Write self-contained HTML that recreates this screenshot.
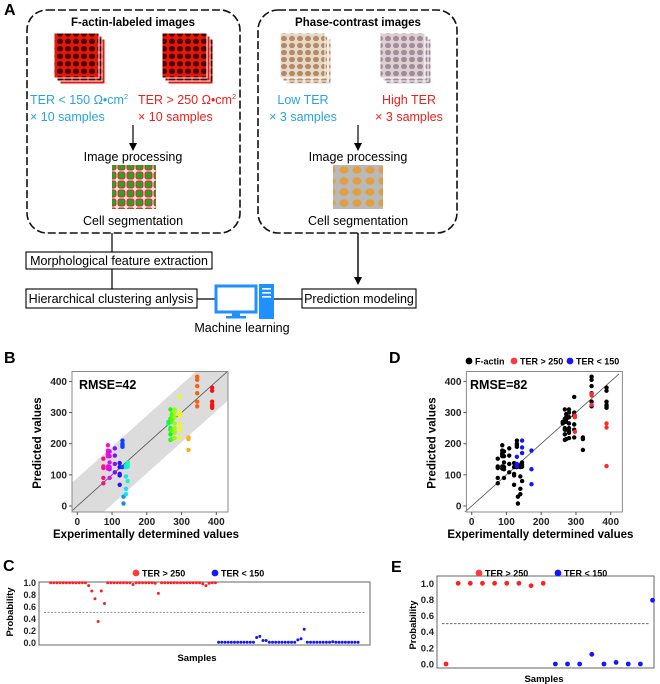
<!DOCTYPE html>
<html><head><meta charset="utf-8"><style>
html,body{margin:0;padding:0;background:#fff;}
svg{display:block;font-family:"Liberation Sans",Arial,sans-serif;}
.b{font-weight:bold;}
</style></head><body>
<svg id="fig" width="660" height="684" viewBox="0 0 660 684">
<defs>
<pattern id="redcells" width="8" height="7.5" patternUnits="userSpaceOnUse">
<rect width="8" height="7.5" fill="#e8150c"/><ellipse cx="4" cy="3.75" rx="3.1" ry="2.8" fill="#4a0500"/>
</pattern>
<pattern id="browncells" width="8" height="7" patternUnits="userSpaceOnUse">
<rect width="8" height="7" fill="#e9d9c4"/><ellipse cx="4" cy="3.5" rx="3" ry="2.6" fill="#b08a6a"/>
</pattern>
<pattern id="purplecells" width="8" height="7" patternUnits="userSpaceOnUse">
<rect width="8" height="7" fill="#ddd0cf"/><ellipse cx="4" cy="3.5" rx="3" ry="2.6" fill="#a08a9c"/>
</pattern>
<pattern id="greencells" width="9" height="9" patternUnits="userSpaceOnUse">
<rect width="9" height="9" fill="#e9e6e6"/><rect x="1" y="1" width="7" height="7" rx="2" fill="#2aa02a" stroke="#ee2222" stroke-width="1"/>
</pattern>
<pattern id="orangecells" width="13" height="11" patternUnits="userSpaceOnUse">
<rect width="13" height="11" fill="#b9b9b9"/><ellipse cx="6" cy="5" rx="4.6" ry="3.8" fill="#e0a041"/>
</pattern>
<marker id="arr" markerWidth="8" markerHeight="8" refX="4" refY="4" orient="auto" markerUnits="userSpaceOnUse">
<path d="M0,0 L8,4 L0,8 z" fill="#000"/>
</marker>
<clipPath id="clipB"><rect x="72" y="372" width="156" height="140"/></clipPath>
<clipPath id="clipD"><rect x="463" y="371" width="156" height="141"/></clipPath>
</defs>

<!-- Panel A -->
<g>
<text x="4" y="15" font-size="16" class="b">A</text>
<rect x="27" y="10" width="213" height="223" rx="20" fill="none" stroke="#111" stroke-width="1.6" stroke-dasharray="8,3"/>
<rect x="258" y="10" width="199" height="223" rx="20" fill="none" stroke="#111" stroke-width="1.6" stroke-dasharray="8,3"/>
<text x="133" y="26" font-size="11.5" class="b" text-anchor="middle">F-actin-labeled images</text>
<text x="358" y="26" font-size="11.5" class="b" text-anchor="middle">Phase-contrast images</text>

<g>
<rect x="60" y="39" width="45" height="45" fill="url(#redcells)" stroke="#fff" stroke-width="1"/>
<rect x="57" y="36" width="45" height="45" fill="url(#redcells)" stroke="#fff" stroke-width="1"/>
<rect x="54" y="33" width="45" height="45" fill="url(#redcells)" stroke="#fff" stroke-width="1"/>
</g>
<g>
<rect x="168" y="39" width="45" height="45" fill="url(#redcells)" stroke="#fff" stroke-width="1"/>
<rect x="165" y="36" width="45" height="45" fill="url(#redcells)" stroke="#fff" stroke-width="1"/>
<rect x="162" y="33" width="45" height="45" fill="url(#redcells)" stroke="#fff" stroke-width="1"/>
</g>
<g>
<rect x="286" y="39" width="45" height="45" fill="url(#browncells)" stroke="#fff" stroke-width="1"/>
<rect x="283" y="36" width="45" height="45" fill="url(#browncells)" stroke="#fff" stroke-width="1"/>
<rect x="280" y="33" width="45" height="45" fill="url(#browncells)" stroke="#fff" stroke-width="1"/>
</g>
<g>
<rect x="386" y="39" width="45" height="45" fill="url(#purplecells)" stroke="#fff" stroke-width="1"/>
<rect x="383" y="36" width="45" height="45" fill="url(#purplecells)" stroke="#fff" stroke-width="1"/>
<rect x="380" y="33" width="45" height="45" fill="url(#purplecells)" stroke="#fff" stroke-width="1"/>
</g>

<g font-size="12.5">
<text x="30" y="104" fill="#29a3e0">TER &lt; 150 Ω•cm<tspan font-size="7.5" dy="-5">2</tspan></text>
<text x="30" y="121" fill="#29a3e0">× 10 samples</text>
<text x="138" y="104" fill="#f0201a">TER &gt; 250 Ω•cm<tspan font-size="7.5" dy="-5">2</tspan></text>
<text x="138" y="121" fill="#f0201a">× 10 samples</text>
<text x="303" y="104" fill="#29a3e0" text-anchor="middle">Low TER</text>
<text x="303" y="121" fill="#29a3e0" text-anchor="middle">× 3 samples</text>
<text x="409" y="104" fill="#f0201a" text-anchor="middle">High TER</text>
<text x="409" y="121" fill="#f0201a" text-anchor="middle">× 3 samples</text>
</g>

<line x1="133" y1="125" x2="133" y2="147" stroke="#000" stroke-width="1.2" marker-end="url(#arr)"/>
<line x1="358" y1="125" x2="358" y2="147" stroke="#000" stroke-width="1.2" marker-end="url(#arr)"/>
<g font-size="12.5">
<text x="133" y="161" text-anchor="middle">Image processing</text>
<text x="358" y="161" text-anchor="middle">Image processing</text>
<text x="133" y="225" text-anchor="middle">Cell segmentation</text>
<text x="358" y="225" text-anchor="middle">Cell segmentation</text>
</g>
<rect x="112" y="165" width="44" height="44" fill="url(#greencells)"/>
<rect x="333" y="165" width="50" height="44" fill="url(#orangecells)"/>

<line x1="112" y1="233" x2="112" y2="290" stroke="#000" stroke-width="1.2"/>
<line x1="358" y1="233" x2="358" y2="281" stroke="#000" stroke-width="1.4" marker-end="url(#arr)"/>
<rect x="26" y="252" width="186" height="17" fill="#fff" stroke="#000" stroke-width="1.1"/>
<text x="119" y="265" font-size="12.5" text-anchor="middle">Morphological feature extraction</text>
<rect x="26" y="289" width="171" height="19" fill="#fff" stroke="#000" stroke-width="1.1"/>
<text x="111" y="303" font-size="12.5" text-anchor="middle">Hierarchical clustering anlysis</text>
<rect x="302" y="289" width="114" height="19" fill="#fff" stroke="#000" stroke-width="1.1"/>
<text x="359" y="303" font-size="12.5" text-anchor="middle">Prediction modeling</text>
<line x1="197" y1="299" x2="215" y2="299" stroke="#000" stroke-width="1.2"/>
<line x1="274" y1="299" x2="302" y2="299" stroke="#000" stroke-width="1.2"/>
<g>
<rect x="216" y="286" width="40" height="26" fill="#fff" stroke="#1e90ff" stroke-width="3"/>
<rect x="232" y="312" width="8" height="4" fill="#1e90ff"/>
<rect x="226" y="316" width="20" height="2.5" fill="#1e90ff"/>
<rect x="259" y="284" width="15" height="35" fill="#1e90ff"/>
<rect x="262" y="288" width="9" height="1.6" fill="#fff"/>
<rect x="262" y="292" width="9" height="1.6" fill="#fff"/>
<rect x="262" y="296" width="9" height="1.6" fill="#fff"/>
</g>
<text x="242" y="332" font-size="12.5" text-anchor="middle">Machine learning</text>
</g>

<g id="panelB">
<text x="4" y="363" font-size="16" class="b">B</text>
</g>
<g id="panelD">
<text x="389" y="363" font-size="16" class="b">D</text>
</g>
<g id="panelC">
<text x="3" y="571" font-size="16" class="b">C</text>
</g>
<g id="panelE">
<text x="391" y="572" font-size="16" class="b">E</text>
</g>
</svg>
<script>
// ---- Panel B / D data ----
const bX = [75, 88, 93, 108, 122, 130, 133, 140, 145, 262, 268, 272, 280, 295, 320, 345, 388];
const bY = [
  [152,127,122,90,73],
  [195,178,170,165,160,127,120],
  [175,160,140,125,118,90],
  [185,162,135,108],
  [138,125,103,98,68],
  [210,200,195,190,125],
  [30,8],
  [125,130,95,55,38],
  [140,132,126,80],
  [270,265],
  [310,280,270,250,245,230,212],
  [295,285,280,270,245,215],
  [310,300,285,265,250,240,235,218],
  [350,300,290,262,245,220],
  [220,215,180],
  [415,405,385,362,335,320],
  [380,370,335,325,320,315]
];
const dRedX = [297,297,297,345,345,345,388,388,388];
const dRedY = [290,285,238,360,355,325,265,252,128];
const dBlueX = [130,130,130,145,145,145,172,172,172];
const dBlueY = [158,135,128,210,188,170,178,118,70];
const axisTicks = [0,100,200,300,400];
// ---- Panel C data ----
const cRed = [1,1,1,1,1,1,1,1,1,1,1,1,0.95,0.86,0.73,0.35,0.86,0.65,1,1,1,1,1,1,1,1,0.97,1,1,1,1,1,1,0.99,0.82,1,1,1,1,1,1,1,1,1,1,1,1,1,0.98,0.95,0.99,1,1];
const cBlue = [0,0,0,0,0,0,0,0,0,0,0,0,0.08,0.1,0.03,0.03,0,0,0,0,0,0,0,0,0,0.04,0.06,0.22,0,0,0,0,0,0,0,0,0.01,0,0,0,0,0,0,0,0];
const probTicks = [0,0.2,0.4,0.6,0.8,1.0];
// ---- Panel E data ----
const eRed = [0,1,1,1,1,1,1,0.97,1];
const eBlue = [0,0,0,0.12,0,0.02,0,0,0.79];

const NS = 'http://www.w3.org/2000/svg';
function mk(parent, tag, attrs, text){
  const el = document.createElementNS(NS, tag);
  for (const k in attrs) el.setAttribute(k, attrs[k]);
  if (text !== undefined) el.textContent = text;
  parent.appendChild(el);
  return el;
}

function scatterPanel(g, ox, clipId, showBand){
  const sx = v => ox + v * 0.3475;
  const sy = v => 506 - v * 0.3115;
  const x0 = ox - 5.3, x1 = ox + 150.7, y0 = 371.5, y1 = 512;
  const clipG = mk(g, 'g', {'clip-path':'url(#'+clipId+')'});
  if (showBand){
    const pts = [[-100,-10],[-100,-195],[500,405],[500,590]].map(p=>sx(p[0])+','+sy(p[1])).join(' ');
    const band = mk(clipG, 'polygon', {points: pts, fill:'#dcdcdc'});
    
    
  }
  const diag = mk(clipG, 'line', {x1:sx(-30), y1:sy(-30), x2:sx(460), y2:sy(460), stroke:'#555', 'stroke-width':0.8});
  
  
  const box = mk(g, 'rect', {x:x0, y:y0, width:x1-x0, height:y1-y0, fill:'none', stroke:'#8a8a8a', 'stroke-width':1});
  
  
  axisTicks.forEach(t=>{
    mk(g,'line',{x1:sx(t),y1:y1,x2:sx(t),y2:y1+3,stroke:'#555'});
    const xl = mk(g,'text',{x:sx(t),y:y1+13,'font-size':10,'text-anchor':'middle','font-weight':'bold',fill:'#222'}, String(t));
    
    
    mk(g,'line',{x1:x0-3,y1:sy(t),x2:x0,y2:sy(t),stroke:'#555'});
    const yl = mk(g,'text',{x:x0-5,y:sy(t)+3.5,'font-size':10,'text-anchor':'end','font-weight':'bold',fill:'#222'}, String(t));
    
    
  });
  const xt = mk(g,'text',{x:(x0+x1)/2-4,y:538,'font-size':11.5,'text-anchor':'middle','font-weight':'bold'},'Experimentally determined values');
  
  
  const cy = 443, cx = x0-31;
  const yt = mk(g,'text',{x:cx,y:cy,'font-size':11.5,'text-anchor':'middle','font-weight':'bold',transform:'rotate(-90 '+cx+' '+cy+')'},'Predicted values');
  
  
  return {sx, sy};
}

(function(){
  const g = document.getElementById('panelB');
  const {sx, sy} = scatterPanel(g, 77.3, 'clipB', true);
  const n = bX.length;
  bX.forEach((x,i)=>{
    const hue = 330 - i * (330/(n-1));
    bY[i].forEach(y=>{
      const c = mk(g,'circle',{cx:sx(x),cy:sy(y),r:2.2,fill:'hsl('+hue+',95%,52%)'});
      
      
    });
  });
  const r = mk(g,'text',{x:79,y:389,'font-size':12.5,'font-weight':'bold'},'RMSE=42');
  
  
})();

(function(){
  const g = document.getElementById('panelD');
  const {sx, sy} = scatterPanel(g, 471.7, 'clipD', false);
  bX.forEach((x,i)=>{
    bY[i].forEach(y=>{
      const c = mk(g,'circle',{cx:sx(x),cy:sy(y),r:2.2,fill:'#000'});
      
      
    });
  });
  dRedX.forEach((x,i)=>{
    const c = mk(g,'circle',{cx:sx(x),cy:sy(dRedY[i]),r:2.2,fill:'#ff2a2a'});
    
    
  });
  dBlueX.forEach((x,i)=>{
    const c = mk(g,'circle',{cx:sx(x),cy:sy(dBlueY[i]),r:2.2,fill:'#1515ff'});
    
    
  });
  const r = mk(g,'text',{x:470,y:389,'font-size':12.5,'font-weight':'bold'},'RMSE=82');
  
  
  const leg = [['#000','F-actin',469],['#ff3a3a','TER > 250',514],['#1515ff','TER < 150',570]];
  leg.forEach(l=>{
    const c = mk(g,'circle',{cx:l[2],cy:361,r:3.4,fill:l[0]});
    
    
    const t = mk(g,'text',{x:l[2]+6,y:364.5,'font-size':9,'font-weight':'bold'},l[1]);
    
    
  });
})();

function probPanel(g, x0, x1, yTop, yBot, y0v, y1v, ticksFont, dash, dashColor){
  const sy = v => y0v + (y1v - y0v) * v;
  const box = mk(g,'rect',{x:x0,y:yTop,width:x1-x0,height:yBot-yTop,fill:'none',stroke:'#666','stroke-width':1});
  
  
  const dl = mk(g,'line',{x1:x0+5,y1:sy(0.5),x2:x1-5,y2:sy(0.5),stroke:dashColor,'stroke-width':0.9,'stroke-dasharray':dash});
  
  
  probTicks.forEach(t=>{
    const tl = mk(g,'text',{x:x0-3,y:sy(t)+3.5,'font-size':ticksFont,'text-anchor':'end','font-weight':'bold',fill:'#222'},t.toFixed(1));
    
    
  });
  return sy;
}

(function(){
  const g = document.getElementById('panelC');
  const sy = probPanel(g, 39, 370, 582, 645, 642.3, 582.7, 9, '2,1.5', '#999');
  const sx = i => 50.6 + i * 3.17;
  cRed.forEach((v,i)=>{
    const c = mk(g,'circle',{cx:sx(i),cy:sy(v),r:1.5,fill:'#ff2020'});
    
    
  });
  cBlue.forEach((v,i)=>{
    const c = mk(g,'circle',{cx:sx(cRed.length+i),cy:sy(v),r:1.5,fill:'#1515ff'});
    
    
  });
  const cx = 13, cy = 612;
  const yt = mk(g,'text',{x:cx,y:cy,'font-size':9.5,'text-anchor':'middle','font-weight':'bold',transform:'rotate(-90 '+cx+' '+cy+')'},'Probability');
  
  
  const xt = mk(g,'text',{x:197,y:661,'font-size':9.5,'text-anchor':'middle','font-weight':'bold'},'Samples');
  
  
  [['#ff3a3a','TER > 250',136],['#1515ff','TER < 150',215]].forEach(l=>{
    const c = mk(g,'circle',{cx:l[2],cy:573,r:3.4,fill:l[0]});
    
    
    const t = mk(g,'text',{x:l[2]+6,y:576.5,'font-size':9,'font-weight':'bold'},l[1]);
    
    
  });
})();

(function(){
  const g = document.getElementById('panelE');
  const sy = probPanel(g, 437, 654, 576, 668, 664, 583.3, 9.5, '2.5,1.5', '#555');
  const sx = i => 446 + i * 12.15;
  eRed.forEach((v,i)=>{
    const c = mk(g,'circle',{cx:sx(i),cy:sy(v),r:2.4,fill:'#ff2020'});
    
    
  });
  eBlue.forEach((v,i)=>{
    const c = mk(g,'circle',{cx:sx(eRed.length+i),cy:sy(v),r:2.4,fill:'#1515ff'});
    
    
  });
  const cx = 416, cy = 625;
  const yt = mk(g,'text',{x:cx,y:cy,'font-size':9.5,'text-anchor':'middle','font-weight':'bold',transform:'rotate(-90 '+cx+' '+cy+')'},'Probability');
  
  
  const xt = mk(g,'text',{x:544,y:682,'font-size':9.5,'text-anchor':'middle','font-weight':'bold'},'Samples');
  
  
  [['#ff3a3a','TER > 250',479],['#1515ff','TER < 150',558]].forEach(l=>{
    const c = mk(g,'circle',{cx:l[2],cy:573,r:3.4,fill:l[0]});
    
    
    const t = mk(g,'text',{x:l[2]+6,y:576.5,'font-size':9,'font-weight':'bold'},l[1]);
    
    
  });
})();
</script>
</body></html>
